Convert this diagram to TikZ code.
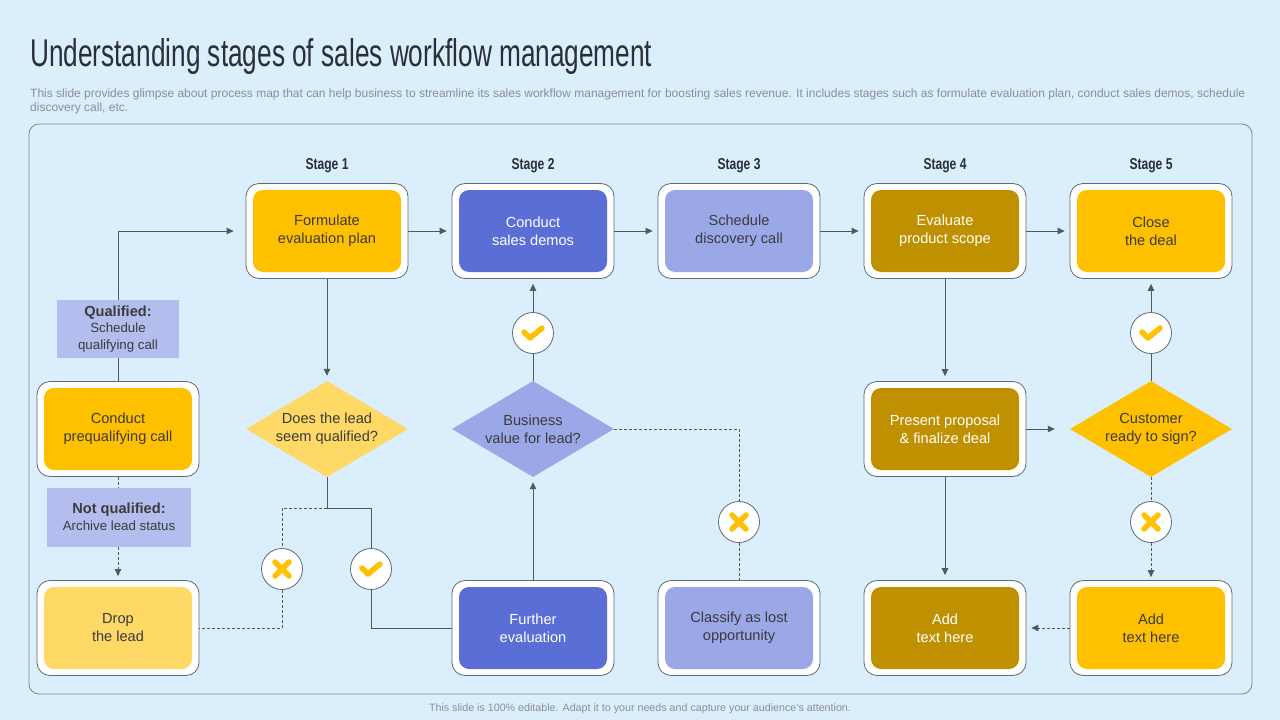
\documentclass[tikz,border=0pt]{standalone}
\usepackage{fontspec}
\setmainfont{Liberation Sans}
\usepackage{graphicx}
\usetikzlibrary{arrows.meta,shapes.geometric}

\definecolor{slide}{HTML}{DAEEFB}
\definecolor{edge}{HTML}{5F6B78}
\definecolor{framecol}{HTML}{7C8896}
\definecolor{flowcol}{HTML}{4F5965}
\definecolor{amber}{HTML}{FFC000}
\definecolor{butter}{HTML}{FFD966}
\definecolor{gold}{HTML}{BF9000}
\definecolor{royal}{HTML}{5A6ED6}
\definecolor{peri}{HTML}{9BA8E8}
\definecolor{tag}{HTML}{B4BEEE}
\definecolor{ink}{HTML}{3B3B3B}
\definecolor{titlecol}{HTML}{2B2F36}
\definecolor{note}{HTML}{8A8F96}

\def\stagetext#1{\resizebox{43pt}{11pt}{\bfseries #1}}
\def\stagecard(#1)(#2)[#3]#4{%
  \node[cardframe] (#1) at (#2) {};
  \node[cardfill,#3] at (#2) {#4};}

\tikzset{
  cardframe/.style={draw=edge, fill=white, line width=0.8pt, rounded corners=13pt,
    minimum width=162pt, minimum height=95pt, inner sep=0pt},
  cardfill/.style={rounded corners=10pt, minimum width=148pt, minimum height=82pt,
    inner sep=0pt, align=center, font=\fontsize{14.6}{18}\selectfont},
  dark/.style={text=ink},
  light/.style={text=white},
  decision/.style={diamond, minimum width=162pt, minimum height=96pt, inner sep=0pt},
  dectext/.style={align=center, text=ink, font=\fontsize{14.6}{18}\selectfont},
  tagbox/.style={fill=tag, align=center, text=ink, inner sep=0pt,
    font=\fontsize{13.3}{16.5}\selectfont},
  tickring/.style={circle, draw=edge, fill=white, line width=0.8pt, minimum size=41pt, inner sep=0pt},
  tickstroke/.style={draw=amber, line width=5.5pt, line cap=round, line join=round},
  yesring/.style={tickring, path picture={\draw[tickstroke]
      ([shift={(-9pt,1pt)}]path picture bounding box.center) -- ++(6pt,-6pt) -- ++(12pt,10pt);}},
  noring/.style={tickring, path picture={
      \draw[tickstroke] ([shift={(-7pt,-7pt)}]path picture bounding box.center) -- ++(14pt,14pt);
      \draw[tickstroke] ([shift={(-7pt,7pt)}]path picture bounding box.center) -- ++(14pt,-14pt);}},
  link/.style={draw=flowcol, line width=1pt},
  flow/.style={link, -{Triangle[length=7pt,width=6.5pt]}, shorten >=5pt},
  dashlink/.style={link, dash pattern=on 3pt off 2pt},
  dashflow/.style={flow, dash pattern=on 3pt off 2pt},
  stagelabel/.style={anchor=base, inner sep=0pt, text=titlecol}
}

\begin{document}
\begin{tikzpicture}[x=1pt, y=-1pt]
  \useasboundingbox (0,0) rectangle (1280,720);
  \fill[slide] (0,0) rectangle (1280,720);

  % heading
  \node[anchor=base west, inner sep=0pt, text=titlecol] (title) at (30,66)
    {\resizebox{622pt}{28pt}{Understanding stages of sales workflow management}};
  \node[anchor=north west, inner sep=0pt, align=left, text=note,
    font=\fontsize{12}{14}\selectfont] (intro) at (30,89)
    {This slide provides glimpse about process map that can help business to streamline its sales workflow management for boosting sales revenue. It includes stages such as formulate evaluation plan, conduct sales demos, schedule\\discovery call, etc.};

  \draw[framecol, line width=0.8pt, rounded corners=10pt] (29,124) rectangle (1252,694);

  \foreach \n/\x in {1/327,2/533,3/739,4/945,5/1151}
    \node[stagelabel] (stage\n) at (\x,169) {\stagetext{Stage \n}};

  % cards
  \stagecard(cpq)(118,429)[fill=amber,dark]{Conduct\\prequalifying call}
  \stagecard(drop)(118,628)[fill=butter,dark]{Drop\\the lead}
  \stagecard(formulate)(327,231)[fill=amber,dark]{Formulate\\evaluation plan}
  \stagecard(demos)(533,231)[fill=royal,light]{Conduct\\sales demos}
  \stagecard(discovery)(739,231)[fill=peri,dark]{Schedule\\discovery call}
  \stagecard(evaluate)(945,231)[fill=gold,light]{Evaluate\\product scope}
  \stagecard(close)(1151,231)[fill=amber,dark]{Close\\the deal}
  \stagecard(further)(533,628)[fill=royal,light]{Further\\evaluation}
  \stagecard(lost)(739,628)[fill=peri,dark]{Classify as lost\\opportunity}
  \stagecard(proposal)(945,429)[fill=gold,light]{Present proposal\\\& finalize deal}
  \stagecard(addleft)(945,628)[fill=gold,light]{Add\\text here}
  \stagecard(addright)(1151,628)[fill=amber,dark]{Add\\text here}

  % decisions
  \node[decision, fill=butter, label={[dectext]center:{Does the lead\\seem qualified?}}] (qualify) at (327,429) {};
  \node[decision, fill=peri, label={[dectext]center:{Business\\value for lead?}}] (biz) at (533,429) {};
  \node[decision, fill=amber, label={[dectext]center:{Customer\\ready to sign?}}] (sign) at (1151,429) {};

  % yes / no marks
  \node[noring] (no1) at (282,569) {};
  \node[yesring] (yes1) at (371,569) {};
  \node[yesring] (yes2) at (533,333) {};
  \node[noring] (no2) at (739,522) {};
  \node[yesring] (yes3) at (1151,333) {};
  \node[noring] (no3) at (1151,522) {};

  % connectors
  \draw[flow, shorten >=12pt] (cpq.north) |- (formulate.west);
  \draw[dashflow, shorten >=4pt] (cpq) -- (drop);
  \draw[flow] (formulate) -- (demos);
  \draw[flow] (demos) -- (discovery);
  \draw[flow] (discovery) -- (evaluate);
  \draw[flow] (evaluate) -- (close);
  \draw[flow] (formulate) -- (qualify);
  \draw[link] (qualify.south) -- ++(0,31) coordinate (fork);
  \draw[dashlink] (fork) -| (no1);
  \draw[dashlink] (no1) |- (drop.east);
  \draw[link] (fork) -| (yes1);
  \draw[link] (yes1) |- (further.west);
  \draw[flow] (further) -- (biz);
  \draw[link] (biz) -- (yes2);
  \draw[flow] (yes2) -- (demos);
  \draw[dashlink] (biz.east) -| (no2);
  \draw[dashlink] (no2) -- (lost);
  \draw[flow] (evaluate) -- (proposal);
  \draw[flow, shorten >=15pt] (proposal) -- (sign);
  \draw[flow] (proposal) -- (addleft);
  \draw[link] (sign) -- (yes3);
  \draw[flow] (yes3) -- (close);
  \draw[dashlink] (sign) -- (no3);
  \draw[dashflow, shorten >=3pt] (no3) -- (addright);
  \draw[dashflow] (addright) -- (addleft);

  % branch notes
  \node[tagbox, minimum width=122pt, minimum height=58pt] (qualified) at (118,329)
    {{\fontsize{14.6}{16.5}\selectfont\bfseries Qualified:}\\Schedule\\qualifying call};
  \node[tagbox, minimum width=144pt, minimum height=59pt] (unqualified) at (119,517)
    {{\fontsize{14.6}{17}\selectfont\bfseries Not qualified:}\\Archive lead status};

  \node[text=note, font=\fontsize{10.7}{12}\selectfont] (footer) at (640,709)
    {This slide is 100\% editable.  Adapt it to your needs and capture your audience's attention.};
\end{tikzpicture}
\end{document}
